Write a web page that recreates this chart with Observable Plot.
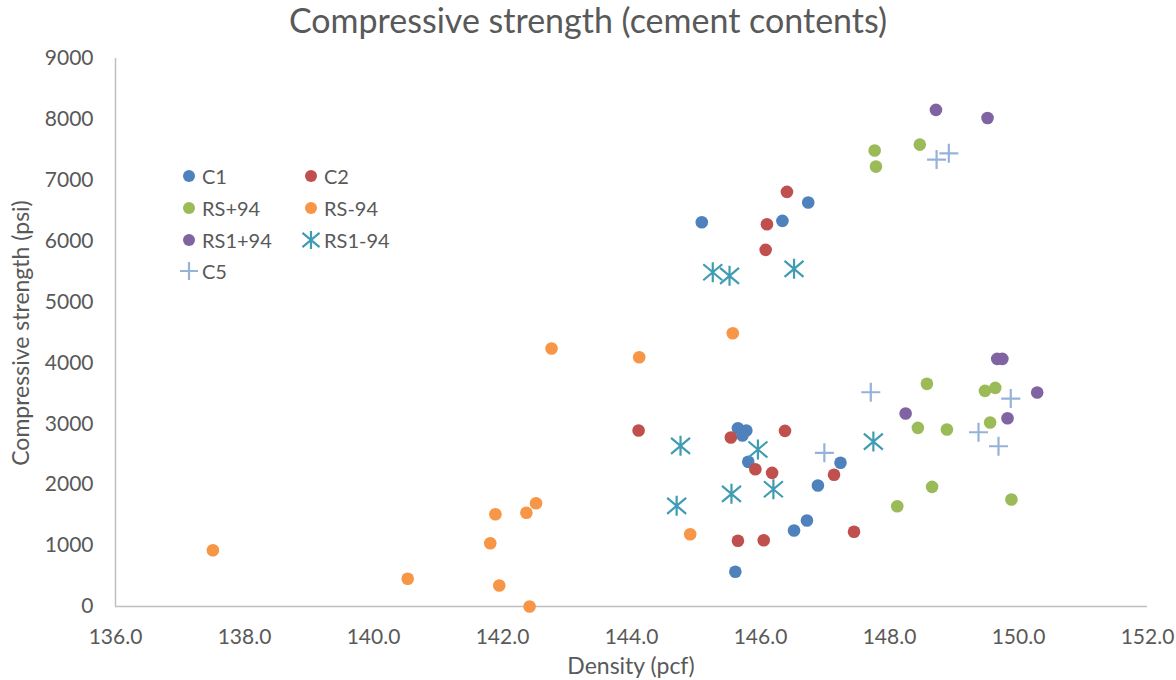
<!DOCTYPE html>
<html><head><meta charset="utf-8">
<script src="https://cdn.jsdelivr.net/npm/d3@7"></script>
<script src="https://cdn.jsdelivr.net/npm/@observablehq/plot@0.6"></script>
<style>
body{margin:0;background:#fff;font-family:Lato,"Open Sans",sans-serif;color:#595959}
#wrap{position:relative;width:1176px;height:680px;overflow:hidden}
#title{height:42px;line-height:40px;text-align:center;font-size:34px;color:#595959;white-space:nowrap}
#chart svg{display:block}
.axlabel{position:absolute;font-size:23px;color:#595959;white-space:nowrap}
#xlabel{left:0;width:1262px;top:650px;text-align:center;line-height:30px}
#ylabel{left:20px;top:333px;transform:translate(-50%,-50%) rotate(-90deg);line-height:30px}
.leg{position:absolute;display:flex;align-items:center;font-size:20px;color:#595959;white-space:nowrap;height:30px}
.leg svg{display:block;margin-right:2px}
</style></head><body>
<div id="wrap">
<div id="title">Compressive strength (cement contents)</div>
<div id="chart"></div>
<div id="xlabel" class="axlabel">Density (pcf)</div>
<div id="ylabel" class="axlabel">Compressive strength (psi)</div>
</div>
<script>
const seriesNames = ["C1", "C2", "RS+94", "RS-94", "RS1+94", "RS1-94", "C5"];
const seriesColors = ["#4F81BD", "#C0504D", "#9BBB59", "#F79646", "#8064A2", "#3F9CB3", "#95B3D7"];
const seriesShapes = ["circle", "circle", "circle", "circle", "circle", "asterisk", "plus"];

const c1Density = [145.09, 146.34, 146.74, 145.65, 145.78, 145.72, 145.81, 147.24, 146.89, 146.72, 146.52, 145.61];
const c1Strength = [6310, 6333, 6634, 2928, 2890, 2808, 2376, 2360, 1987, 1412, 1248, 570];

const c2Density = [146.41, 146.10, 146.08, 144.11, 145.54, 146.38, 145.92, 146.18, 147.14, 147.45, 145.65, 146.05];
const c2Strength = [6809, 6277, 5857, 2890, 2775, 2885, 2254, 2195, 2163, 1227, 1079, 1089];

const rsPlusDensity = [147.77, 148.47, 147.79, 148.58, 149.48, 149.64, 148.44, 148.89, 149.56, 148.66, 148.12, 149.89];
const rsPlusStrength = [7488, 7586, 7225, 3657, 3542, 3591, 2934, 2906, 3021, 1965, 1647, 1757];

const rsMinusDensity = [145.57, 144.12, 142.76, 144.91, 137.51, 140.53, 141.89, 142.37, 142.52, 141.81, 141.95, 142.42];
const rsMinusStrength = [4488, 4094, 4236, 1187, 924, 455, 1516, 1539, 1696, 1039, 345, 0];

const rs1PlusDensity = [148.72, 149.52, 149.67, 149.75, 150.29, 148.25, 149.83];
const rs1PlusStrength = [8156, 8024, 4067, 4067, 3514, 3169, 3092];

const rs1MinusDensity = [145.26, 145.52, 146.52, 144.76, 145.96, 145.55, 146.20, 144.70, 147.75];
const rs1MinusStrength = [5489, 5430, 5545, 2639, 2578, 1851, 1926, 1654, 2709];

const c5Density = [148.73, 148.92, 147.71, 146.99, 149.88, 149.38, 149.69];
const c5Strength = [7340, 7443, 3519, 2524, 3415, 2862, 2632];

const xTicks = [136, 138, 140, 142, 144, 146, 148, 150, 152];
const yTicks = [0, 1000, 2000, 3000, 4000, 5000, 6000, 7000, 8000, 9000];

const seriesDensity = [c1Density, c2Density, rsPlusDensity, rsMinusDensity, rs1PlusDensity, rs1MinusDensity, c5Density];
const seriesStrength = [c1Strength, c2Strength, rsPlusStrength, rsMinusStrength, rs1PlusStrength, rs1MinusStrength, c5Strength];

const asterisk = {draw(ctx, size) {
  const r = Math.sqrt(size / Math.PI);
  ctx.moveTo(0, -r); ctx.lineTo(0, r);
  const a = r * 0.95, b = r * 0.8;
  ctx.moveTo(-a, -b); ctx.lineTo(a, b);
  ctx.moveTo(-a, b); ctx.lineTo(a, -b);
}};
const plusSym = {draw(ctx, size) {
  const r = Math.sqrt(size / Math.PI);
  ctx.moveTo(-r, 0); ctx.lineTo(r, 0);
  ctx.moveTo(0, -r); ctx.lineTo(0, r);
}};

function dotFor(i, rows) {
  const shape = seriesShapes[i], color = seriesColors[i];
  if (shape === "circle") return Plot.dot(rows, {x: "x", y: "y", r: 6.3, fill: color, stroke: "none"});
  if (shape === "asterisk") return Plot.dot(rows, {x: "x", y: "y", r: 10, symbol: asterisk, fill: "none", stroke: color, strokeWidth: 2.2});
  return Plot.dot(rows, {x: "x", y: "y", r: 9.5, symbol: plusSym, fill: "none", stroke: color, strokeWidth: 2.2});
}

const marks = [
  Plot.ruleY([0], {stroke: "#bfbfbf", strokeWidth: 1.5}),
  Plot.ruleX([136], {stroke: "#bfbfbf", strokeWidth: 1.5})
];
seriesNames.forEach((name, i) => {
  const rows = seriesDensity[i].map((d, j) => ({x: d, y: seriesStrength[i][j], s: name}));
  marks.push(dotFor(i, rows));
});

const chart = Plot.plot({
  width: 1176,
  height: 638,
  marginTop: 16,
  marginBottom: 74,
  marginLeft: 115,
  marginRight: 29,
  style: {fontFamily: "Lato, 'Open Sans', sans-serif", fontSize: "21px", color: "#595959", background: "#fff", overflow: "visible"},
  x: {domain: [136, 152], ticks: xTicks, tickFormat: d3.format(".1f"), tickSize: 0, tickPadding: 23, label: null},
  y: {domain: [0, 9000], ticks: yTicks, tickSize: 0, tickPadding: 22, tickFormat: d => String(d), label: null},
  marks
});
document.getElementById("chart").appendChild(chart);

// legend overlay inside plot area
const wrap = document.getElementById("wrap");
seriesNames.forEach((name, i) => {
  const col = i % 2, row = Math.floor(i / 2);
  const el = document.createElement("div");
  el.className = "leg";
  el.style.left = (178 + col * 122) + "px";
  el.style.top = (161 + row * 31.8) + "px";
  const svg = d3.create("svg").attr("width", 22).attr("height", 22);
  const g = svg.append("g").attr("transform", "translate(11,11)");
  const shape = seriesShapes[i];
  if (shape === "circle") g.append("circle").attr("r", 6).attr("fill", seriesColors[i]);
  else g.append("path").attr("d", d3.symbol(shape === "asterisk" ? asterisk : plusSym, Math.PI * 81)()).attr("fill", "none").attr("stroke", seriesColors[i]).attr("stroke-width", 2.2);
  el.appendChild(svg.node());
  const t = document.createElement("span");
  t.textContent = name;
  el.appendChild(t);
  wrap.appendChild(el);
});
</script>
</body></html>
